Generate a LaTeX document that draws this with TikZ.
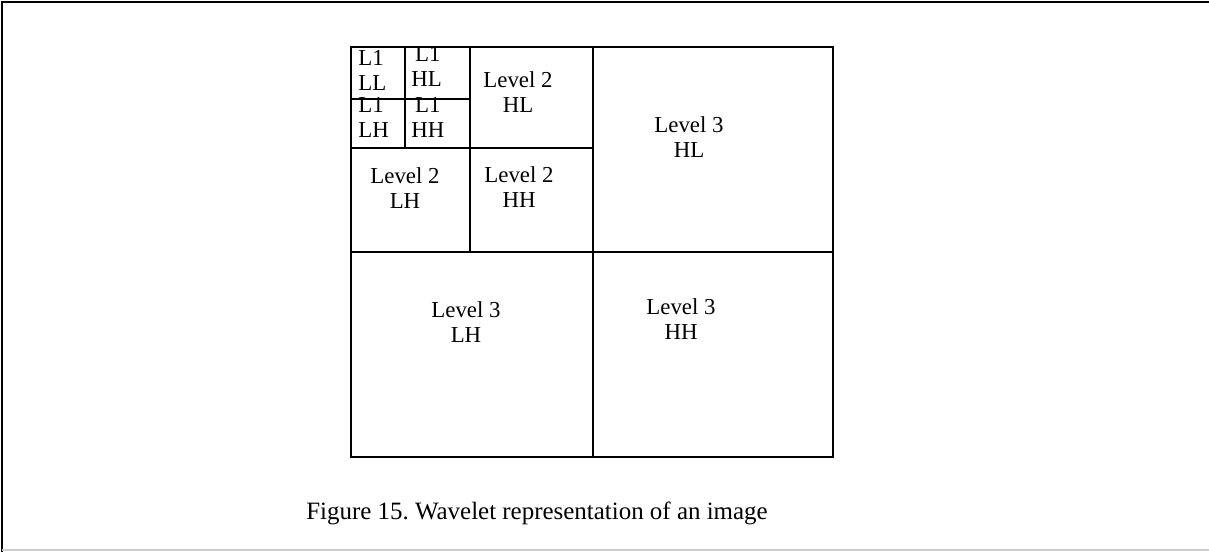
\documentclass[tikz,border=0pt]{standalone}
\usepackage{fontspec}
\setmainfont{Liberation Serif}
\usetikzlibrary{positioning}

\begin{document}
\frenchspacing
\begin{tikzpicture}[x=0.02cm,y=-0.02cm,
    band/.style={align=center,inner sep=0pt,font=\fontsize{13}{14.2}\selectfont},
    small/.style={align=left,anchor=west,inner sep=0pt,font=\fontsize{13}{14.2}\selectfont},
    outer/.style={line width=1.3pt},
    inner/.style={line width=0.6pt}]
              \useasboundingbox (0,0) rectangle (1209,552);
              \draw[line width=1.2pt] (2,552) -- (2,2) -- (1209,2);
              \draw[line width=0.8pt,black!20] (2,550) -- (1209,550);
              \coordinate (nw) at (351,47);
              \coordinate (se) at (833,457);
              \draw[inner] (593,47) -- (593,457) (351,252) -- (833,252);
              \draw[inner] (470,47) -- (470,252) (351,148) -- (593,148);
              \draw[inner] (405,47) -- (405,148) (351,99) -- (470,99);
              \draw[line width=0.9pt] (351,148) -- (470,148) -- (470,47);
              \draw[line width=0.9pt] (470,252) -- (593,252) -- (593,47);
              \draw[outer] (nw) rectangle (se);
              \node[small](l1ll) at (358,70){L1\\LL};
              \node[small](l1hl) at (411,66){\,L1\\HL};
              \node[small](l1lh) at (358,117){L1\\LH};
              \node[small](l1hh) at (411,117){\,L1\\HH};
              \node[band](l2hl) at (518,92){Level 2\\HL};
              \node[band](l2lh) at (405,188){Level 2\\LH};
              \node[band](l2hh) at (519,187){Level 2\\HH};
              \node[band](l3hl) at (689,137){Level 3\\HL};
              \node[band](l3lh) at (466,322){Level 3\\LH};
              \node[band](l3hh) at (681,319){Level 3\\HH};
              \node[inner sep=0pt,font=\fontsize{14.2}{17}\selectfont](caption) at (537,513){Figure 15. Wavelet representation of an image};
          \end{tikzpicture}
\end{document}
